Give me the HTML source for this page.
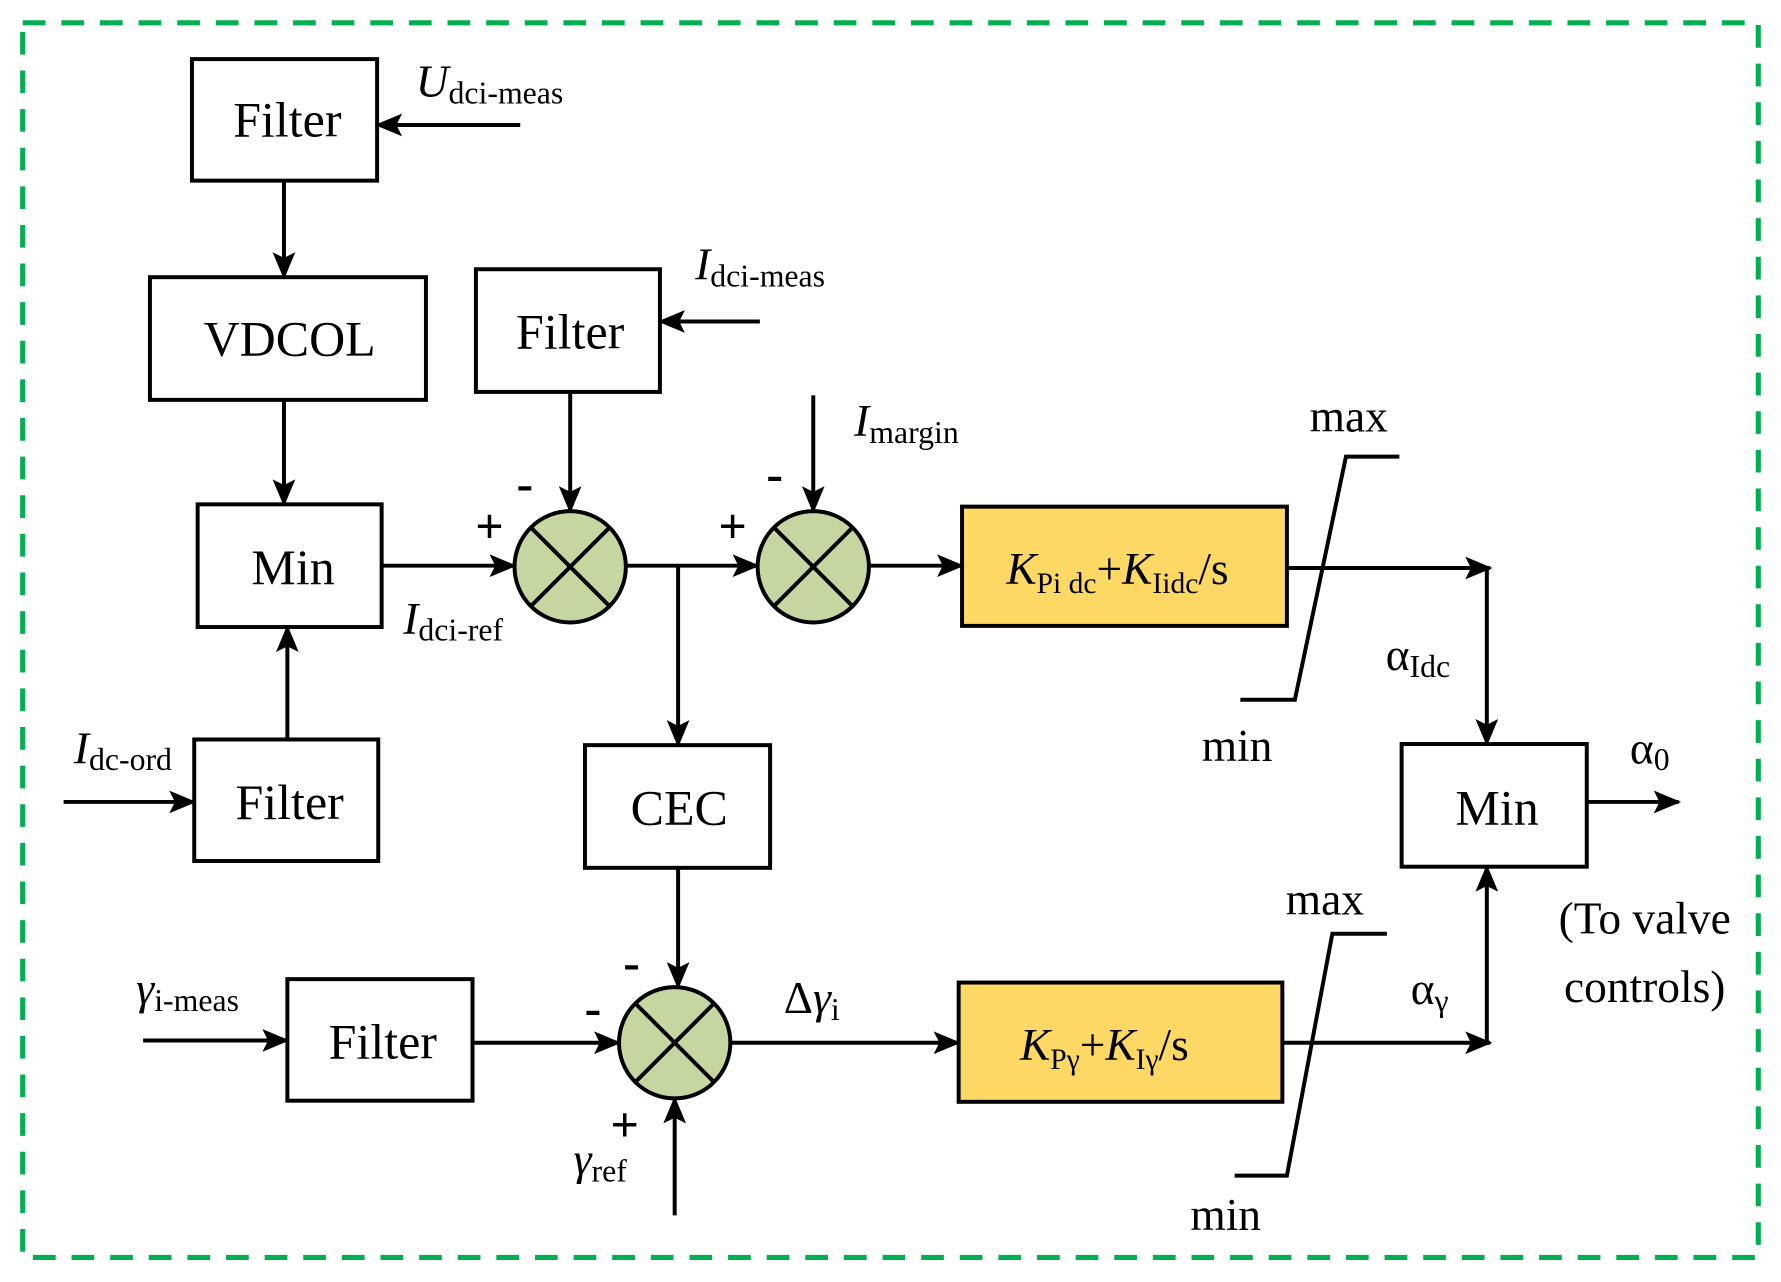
<!DOCTYPE html>
<html><head><meta charset="utf-8"><style>
html,body{margin:0;padding:0;background:#fff;}
svg{display:block;}
text{font-family:"Liberation Serif",serif;fill:#000;}
</style></head><body>
<svg width="1781" height="1282" viewBox="0 0 1568 1128.6" xmlns="http://www.w3.org/2000/svg">
<defs>
<marker id="a" markerWidth="24" markerHeight="20" refX="22" refY="10" orient="auto" markerUnits="userSpaceOnUse">
<path d="M0,0 L24,10 L0,20 L5,10 Z" fill="#000"/>
</marker>
</defs>
<rect x="20" y="20" width="1528" height="1087" fill="none" stroke="#00b050" stroke-width="4.5" stroke-dasharray="20,14"/>
<g fill="none" stroke="#000" stroke-width="3.5">
<rect x="169" y="52" width="163" height="107"/>
<rect x="132" y="244" width="243" height="108"/>
<rect x="174" y="444" width="162" height="108"/>
<rect x="171" y="651" width="162" height="107"/>
<rect x="419" y="237" width="162" height="108"/>
<rect x="515" y="656" width="163" height="108"/>
<rect x="253" y="862" width="163" height="107"/>
<rect x="847" y="446" width="286" height="105" fill="#fdd865"/>
<rect x="844" y="865" width="285" height="105" fill="#fdd865"/>
<rect x="1234" y="655" width="163" height="108"/>
<circle cx="502" cy="499" r="49" fill="#c5d6a0"/>
<circle cx="716" cy="499" r="49" fill="#c5d6a0"/>
<circle cx="594" cy="918" r="49" fill="#c5d6a0"/>
<path d="M467,464 L537,534 M537,464 L467,534"/>
<path d="M681,464 L751,534 M751,464 L681,534"/>
<path d="M559,883 L629,953 M629,883 L559,953"/>
<!-- arrows -->
<path d="M458,110 L332,110" marker-end="url(#a)"/>
<path d="M250,159 L250,244" marker-end="url(#a)"/>
<path d="M250,352 L250,444" marker-end="url(#a)"/>
<path d="M253,651 L253,552" marker-end="url(#a)"/>
<path d="M56,706 L171,706" marker-end="url(#a)"/>
<path d="M336,498 L453,498" marker-end="url(#a)"/>
<path d="M502,345 L502,450" marker-end="url(#a)"/>
<path d="M669,283 L581,283" marker-end="url(#a)"/>
<path d="M551,498 L667,498" marker-end="url(#a)"/>
<path d="M597,498 L597,656" marker-end="url(#a)"/>
<path d="M716,348 L716,450" marker-end="url(#a)"/>
<path d="M765,498 L847,498" marker-end="url(#a)"/>
<path d="M1133,500 L1312,500" marker-end="url(#a)"/>
<path d="M1309,500 L1309,655" marker-end="url(#a)"/>
<path d="M597,764 L597,869" marker-end="url(#a)"/>
<path d="M126,916 L253,916" marker-end="url(#a)"/>
<path d="M416,918 L545,918" marker-end="url(#a)"/>
<path d="M643,918 L844,918" marker-end="url(#a)"/>
<path d="M594,1070 L594,967" marker-end="url(#a)"/>
<path d="M1129,918 L1312,918" marker-end="url(#a)"/>
<path d="M1309,918 L1309,763" marker-end="url(#a)"/>
<path d="M1397,706 L1478,706" marker-end="url(#a)"/>
<path d="M1092,616 L1140,616 L1185,402 L1232,402"/>
<path d="M1087,1035 L1133,1035 L1173,822 L1221,822"/>
</g>
<g font-size="44" text-anchor="middle">
<text x="253" y="120">Filter</text>
<text x="255" y="313">VDCOL</text>
<text x="258" y="514">Min</text>
<text x="255" y="721">Filter</text>
<text x="502" y="307">Filter</text>
<text x="598" y="726">CEC</text>
<text x="337" y="932">Filter</text>
<text x="1318" y="726">Min</text>
</g>
<text x="886" y="514" font-size="40"><tspan font-style="italic">K</tspan><tspan font-size="26" dy="8">Pi dc</tspan><tspan dy="-8">+</tspan><tspan font-style="italic">K</tspan><tspan font-size="26" dy="8">Iidc</tspan><tspan dy="-8">/s</tspan></text>
<text x="898" y="933" font-size="40"><tspan font-style="italic">K</tspan><tspan font-size="26" dy="8">Pγ</tspan><tspan dy="-8">+</tspan><tspan font-style="italic">K</tspan><tspan font-size="26" dy="8">Iγ</tspan><tspan dy="-8">/s</tspan></text>
<g font-size="40">
<text x="366" y="85"><tspan font-style="italic">U</tspan><tspan font-size="28" dy="6">dci-meas</tspan></text>
<text x="612" y="246"><tspan font-style="italic">I</tspan><tspan font-size="28" dy="6">dci-meas</tspan></text>
<text x="752" y="384"><tspan font-style="italic">I</tspan><tspan font-size="28" dy="6">margin</tspan></text>
<text x="355" y="558"><tspan font-style="italic">I</tspan><tspan font-size="28" dy="6">dci-ref</tspan></text>
<text x="65" y="672"><tspan font-style="italic">I</tspan><tspan font-size="28" dy="6">dc-ord</tspan></text>
<text x="120" y="884"><tspan font-style="italic">γ</tspan><tspan font-size="28" dy="6">i-meas</tspan></text>
<text x="505" y="1034"><tspan font-style="italic">γ</tspan><tspan font-size="28" dy="6">ref</tspan></text>
<text x="690" y="892">Δ<tspan font-style="italic">γ</tspan><tspan font-size="28" dy="6">i</tspan></text>
<text x="1220" y="590">α<tspan font-size="28" dy="6">Idc</tspan></text>
<text x="1242" y="884">α<tspan font-size="28" dy="6">γ</tspan></text>
<text x="1435" y="672">α<tspan font-size="28" dy="6">0</tspan></text>
<text x="1153" y="380">max</text>
<text x="1058" y="670">min</text>
<text x="1132" y="805">max</text>
<text x="1048" y="1083">min</text>
<text x="1448" y="822" text-anchor="middle">(To valve</text>
<text x="1448" y="882" text-anchor="middle">controls)</text>
</g>
<g font-size="44" font-weight="bold" text-anchor="middle">
<text x="431" y="478">+</text>
<text x="462" y="440">-</text>
<text x="645" y="478">+</text>
<text x="682" y="432">-</text>
<text x="556" y="862">-</text>
<text x="522" y="902">-</text>
<text x="550" y="1005">+</text>
</g>
</svg>
</body></html>
